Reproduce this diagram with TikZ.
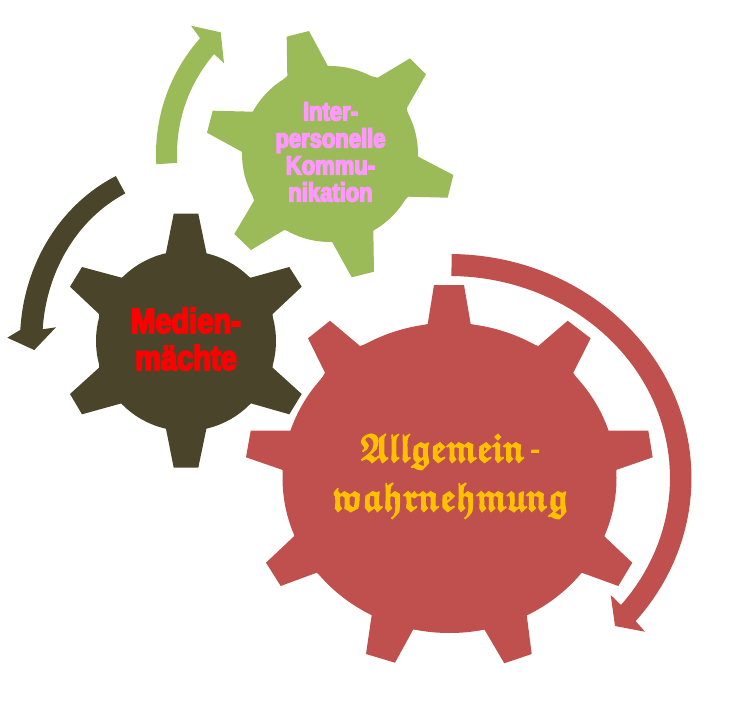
\documentclass[tikz,border=0pt]{standalone}
\usepackage{fontspec}
\usepackage{amsfonts}
\newfontfamily\impactfont[FakeStretch=0.83,FakeBold=5]{Liberation Sans Bold}
\newcommand{\frakfont}{\usefont{U}{euf}{b}{n}}
\newcommand{\frakline}[1]{\scalebox{.83}[1]{\special{pdf:code 2 Tr 1.2 w}#1\special{pdf:code 0 Tr}}}
\definecolor{gearred}{HTML}{C0504D}
\definecolor{geargreen}{HTML}{9BBB59}
\definecolor{gearbrown}{HTML}{4A452A}
\definecolor{textpink}{HTML}{FF99FF}
\definecolor{textgold}{HTML}{FFC000}
\tikzset{
  gearlabel/.style={align=center,inner sep=0pt},
}
\begin{document}
\begin{tikzpicture}[x=1pt,y=-1pt]
\useasboundingbox (0,0) rectangle (742,721);
% large gear
\fill[gearred] (449.5,478) ellipse [x radius=167pt,y radius=155pt];
\fill[gearred] (427.7,324) -- (434,285) -- (464,285) -- (470.7,324)
  -- (538.3,346) -- (567.7,320.7) -- (590.7,338.3) -- (573.3,372.7)
  -- (607.7,430.7) -- (648.3,430.7) -- (652.7,457.3) -- (616,470)
  -- (604,536) -- (632.3,562.7) -- (618.3,586) -- (581.7,572.7)
  -- (526.7,615) -- (531.7,654) -- (504.3,663.3) -- (484.3,629.3)
  -- (413.3,629.3) -- (395,662.7) -- (366,654) -- (371.7,615)
  -- (316.7,572.7) -- (280.7,586) -- (266,562.7) -- (294.3,536)
  -- (282.7,470) -- (246,457.3) -- (250.7,430.7) -- (290.7,430.7)
  -- (325,372.7) -- (308,338.3) -- (330,320.7) -- (360,346) -- cycle;
\fill[gearred] plot[domain=-89.5:39.7,samples=60] ({449.5+242*cos(\x)},{478+224*sin(\x)})
  -- (645,631.7) -- (615,626) -- (610.7,595) -- (620,604)
  -- plot[domain=38.9:-89.5,samples=60] ({449.5+220.5*cos(\x)},{478+202*sin(\x)}) -- cycle;
% medium gear
\fill[gearbrown] (186,341) circle [radius=90pt];
\fill[gearbrown] (165.7,254.3) -- (173.7,213.7) -- (198.3,213.7) -- (206.7,254.3)
  -- (250.7,277.7) -- (289.3,267) -- (301.7,286.7) -- (272.7,314)
  -- (272.7,367.7) -- (301.7,394) -- (289.3,414.3) -- (250.7,403.3)
  -- (206.7,427.3) -- (198.3,467.7) -- (173.7,467.7) -- (165.7,427.3)
  -- (121.7,403.3) -- (82,414.3) -- (70,394) -- (99,367.7)
  -- (99,314) -- (70,286.7) -- (82,267) -- (121.7,277.7) -- cycle;
\fill[gearbrown] plot[domain=245:183.5,samples=40] ({186+166*cos(\x)},{341+182*sin(\x)})
  -- (7.3,337.7) -- (34.3,350) -- (56,327.3) -- (42.3,329.3)
  -- plot[domain=184.1:245,samples=40] ({186+143.7*cos(\x)},{341+162.8*sin(\x)}) -- cycle;
% small gear
\fill[geargreen] (330,154) circle [radius=88pt];
\fill[geargreen] (287.3,75.7) -- (286.7,36.7) -- (309,31) -- (327.7,65.7)
  -- (377.7,77.7) -- (410,58.3) -- (426,74.3) -- (406.7,108.3)
  -- (418.3,156.7) -- (453.3,175) -- (447.7,197.7) -- (408.3,196.7)
  -- (373.3,230) -- (374,271.7) -- (351.7,277.3) -- (332.3,242.3)
  -- (284.3,230) -- (251,250) -- (234.3,234) -- (254,200.7)
  -- (241.7,151.7) -- (207,132.7) -- (212.7,110.7) -- (252.7,111.7) -- cycle;
\fill[geargreen] plot[domain=176.6:221.7,samples=30] ({330+174*cos(\x)},{154+174*sin(\x)})
  -- (191,25.7) -- (220.7,32.3) -- (224,63.3) -- (213.3,53.3)
  -- plot[domain=220.8:176.7,samples=30] ({330+153*cos(\x)},{154+153*sin(\x)}) -- cycle;
% labels
\node[gearlabel,text=textgold,font=\fontsize{40}{49}\frakfont] (allgemein) at (450,476) {\frakline{Allgemein\,\scalebox{.3}[1]{-}}\\\frakline{wahrnehmung}};
\node[gearlabel,text=red,font=\fontsize{35}{37}\selectfont\impactfont] (medien) at (186,339) {Medien-\\mächte};
\node[gearlabel,text=textpink,font=\fontsize{26.5}{27}\selectfont\impactfont] (inter) at (330.5,152) {Inter-\\personelle\\Kommu-\\nikation};
\end{tikzpicture}
\end{document}
